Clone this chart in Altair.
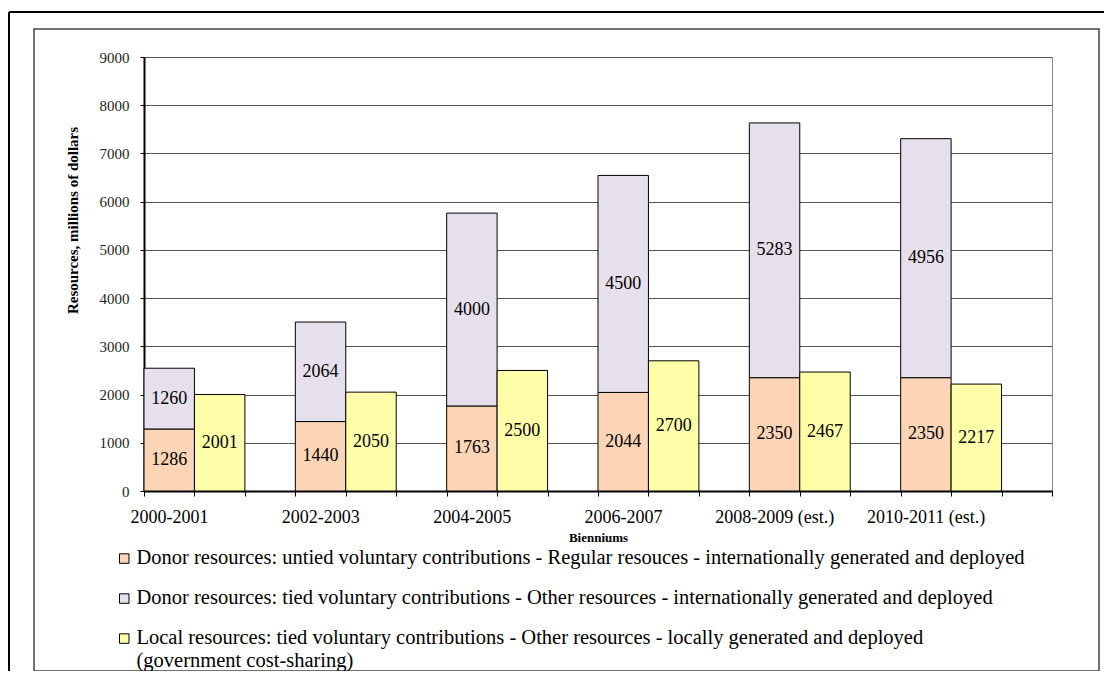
import json
import altair as alt
import pandas as pd

bienniums = ["2000-2001", "2002-2003", "2004-2005", "2006-2007",
             "2008-2009 (est.)", "2010-2011 (est.)"]
untied = [1286, 1440, 1763, 2044, 2350, 2350]
tied = [1260, 2064, 4000, 4500, 5283, 4956]
local = [2001, 2050, 2500, 2700, 2467, 2217]
series_names = [
    "Donor resources: untied voluntary contributions - Regular resouces - internationally generated and deployed",
    "Donor resources: tied voluntary contributions - Other resources - internationally generated and deployed",
    "Local resources: tied voluntary contributions - Other resources - locally generated and deployed\n(government cost-sharing)",
]
colors = ["#FBD5B5", "#E5E0EC", "#FFFFAA"]
y_ticks = list(range(0, 9001, 1000))

rows = []
for i, b in enumerate(bienniums):
    rows.append(dict(biennium=b, series=series_names[0], order=0, slot=3 * i, value=untied[i]))
    rows.append(dict(biennium=b, series=series_names[1], order=1, slot=3 * i, value=tied[i]))
    rows.append(dict(biennium=b, series=series_names[2], order=2, slot=3 * i + 1, value=local[i]))
df = pd.DataFrame(rows)

n_slots = 3 * len(bienniums)
FONT = "Liberation Serif"
label_expr = ("(datum.value %% 3 == 0 && datum.value < %d) ? %s[datum.value / 3] : ''"
              % (n_slots, json.dumps(bienniums)))

base = alt.Chart(df).transform_stack(
    stack="value", groupby=["slot"], as_=["y0", "y1"],
    sort=[alt.SortField("order", order="ascending")],
).transform_calculate(
    slot_end="datum.slot + 1",
    xmid="datum.slot + 0.5",
    ymid="(datum.y0 + datum.y1) / 2",
)

x_enc = alt.X(
    "slot:Q",
    scale=alt.Scale(domain=[0, n_slots], nice=False, zero=False),
    axis=alt.Axis(
        values=list(range(n_slots + 1)), labelExpr=label_expr, title="Bienniums",
        grid=False, domainColor="black", domainWidth=2, tickColor="black",
        tickSize=5, labelFont=FONT, labelFontSize=18, labelColor="black",
        labelPadding=12, labelOffset=25, labelFlush=False, labelOverlap=False,
        titleFont=FONT, titleFontSize=13, titleFontWeight="bold",
        titleColor="black", titleY=46, titleBaseline="middle",
    ),
)
y_enc = alt.Y(
    "y0:Q",
    scale=alt.Scale(domain=[0, 9000], nice=False),
    axis=alt.Axis(
        values=y_ticks, format="d", title="Resources, millions of dollars", grid=True,
        gridColor="#555", gridWidth=1, domainColor="black", domainWidth=2,
        tickColor="black", tickSize=4, labelFont=FONT, labelFontSize=15,
        labelColor="#222", labelPadding=11,
        titleFont=FONT, titleFontSize=15, titleFontWeight="bold",
        titleColor="black", titleX=-72, titleY=163, titleBaseline="middle",
        titleAlign="center", titleAngle=270,
    ),
)

bars = base.mark_bar(stroke="black", strokeWidth=1, opacity=1).encode(
    x=x_enc,
    x2="slot_end:Q",
    y=y_enc,
    y2="y1:Q",
    color=alt.Color(
        "series:N",
        scale=alt.Scale(domain=series_names, range=colors),
        legend=alt.Legend(
            title=None, orient="none", legendX=-30, legendY=497,
            direction="vertical", symbolType="M-1,-2.2H1V-0.2H-1Z",
            symbolSize=90, symbolStrokeColor="black", symbolStrokeWidth=1,
            symbolOpacity=1, labelFont=FONT, labelFontSize=20.5,
            labelColor="black", labelLimit=2000, labelOffset=2,
            labelBaseline="alphabetic", rowPadding=19, padding=0,
            labelExpr="split(datum.label, '\\n')",
        ),
    ),
)

labels = base.mark_text(font=FONT, fontSize=18, color="black").encode(
    x="xmid:Q",
    y="ymid:Q",
    text=alt.Text("value:Q", format="d"),
)

deco = alt.Chart(alt.Data(values=[{"k": 1}]))
inner_box = deco.mark_rect(filled=False, stroke="#444", strokeWidth=1.5).encode(
    x=alt.value(-110), x2=alt.value(955), y=alt.value(-28), y2=alt.value(614)
)
outer_top = deco.mark_rule(color="black", strokeWidth=2).encode(
    x=alt.value(-135), x2=alt.value(968), y=alt.value(-45)
)
outer_left = deco.mark_rule(color="black", strokeWidth=2).encode(
    x=alt.value(-135), y=alt.value(-45), y2=alt.value(625)
)

chart = alt.layer(inner_box, outer_top, outer_left, bars, labels).properties(
    width=908, height=434,
    background="white",
    autosize=alt.AutoSizeParams(type="none"),
    padding={"left": 136, "top": 49, "right": 52, "bottom": 180},
).configure_view(stroke="#888", strokeWidth=1)

chart.save("out.html", embed_options={"renderer": "svg", "actions": False})
